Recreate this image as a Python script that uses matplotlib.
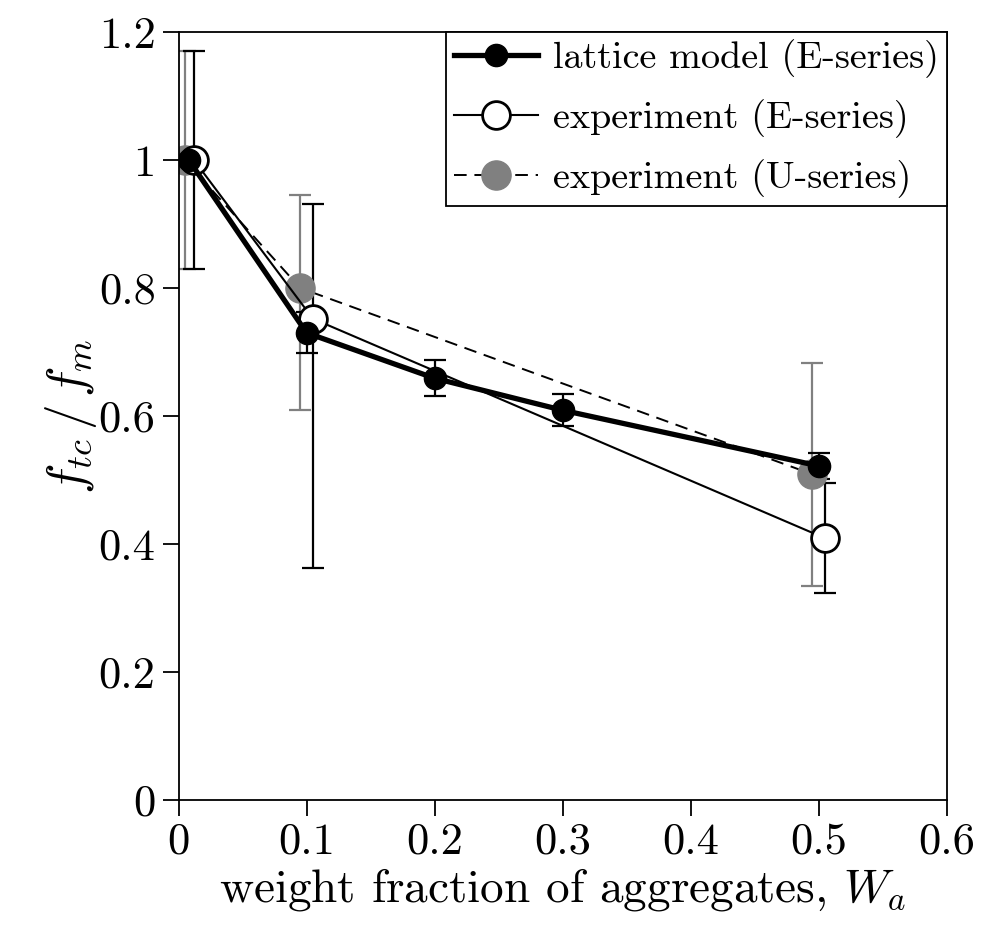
import matplotlib
matplotlib.use("Agg")
import matplotlib.pyplot as plt

plt.rcParams["font.family"] = "serif"
plt.rcParams["font.serif"] = ["cmr10"]
plt.rcParams["mathtext.fontset"] = "cm"
plt.rcParams["axes.formatter.use_mathtext"] = True

# lattice model (E-series)
x_lat = [0.008, 0.1, 0.2, 0.3, 0.5]
y_lat = [1.0, 0.73, 0.659, 0.609, 0.522]
e_lat = [0.0, 0.032, 0.028, 0.025, 0.02]

# experiment (E-series)
x_expE = [0.012, 0.105, 0.505]
y_expE = [1.0, 0.752, 0.409]
e_expE_lo = [0.17, 0.39, 0.086]
e_expE_hi = [0.17, 0.18, 0.087]

# experiment (U-series)
x_expU = [0.005, 0.095, 0.495]
y_expU = [1.0, 0.80, 0.509]
e_expU_lo = [0.17, 0.19, 0.174]
e_expU_hi = [0.17, 0.145, 0.174]

xticks = [0, 0.1, 0.2, 0.3, 0.4, 0.5, 0.6]
xlabels = ["0", "0.1", "0.2", "0.3", "0.4", "0.5", "0.6"]
yticks = [0, 0.2, 0.4, 0.6, 0.8, 1.0, 1.2]
ylabels = ["0", "0.2", "0.4", "0.6", "0.8", "1", "1.2"]

grey = "#808080"

fig = plt.figure(figsize=(9.88, 9.32), dpi=100)
ax = fig.add_axes([178.5 / 988, 1 - 800 / 932, (946.7 - 178.5) / 988, 768 / 932])

# error bars
ax.errorbar(x_expU, y_expU, yerr=[e_expU_lo, e_expU_hi], fmt="none",
            ecolor=grey, elinewidth=1.6, capsize=8, capthick=1.6, zorder=1)
ax.errorbar(x_expE, y_expE, yerr=[e_expE_lo, e_expE_hi], fmt="none",
            ecolor="black", elinewidth=1.6, capsize=8, capthick=1.6, zorder=1)
ax.errorbar(x_lat, y_lat, yerr=e_lat, fmt="none",
            ecolor="black", elinewidth=1.6, capsize=8, capthick=1.6, zorder=1)

# series
ax.plot(x_expU, y_expU, color="black", linestyle=(0, (6.5, 4)), linewidth=1.4,
        marker="o", markersize=21, markerfacecolor=grey, markeredgecolor=grey,
        zorder=2, label="experiment (U-series)")
ax.plot(x_expE, y_expE, color="black", linewidth=1.5,
        marker="o", markersize=20, markerfacecolor="white", markeredgecolor="black",
        markeredgewidth=2.0, zorder=3, label="experiment (E-series)")
ax.plot(x_lat, y_lat, color="black", linewidth=3.8,
        marker="o", markersize=16, markerfacecolor="black", markeredgecolor="black",
        zorder=4, label="lattice model (E-series)")

ax.set_xlim(0, 0.6)
ax.set_ylim(0, 1.2)
ax.set_xticks(xticks)
ax.set_xticklabels(xlabels)
ax.set_yticks(yticks)
ax.set_yticklabels(ylabels)
ax.tick_params(direction="out", length=11.5, width=1.3, labelsize=32, pad=5)
for s in ax.spines.values():
    s.set_linewidth(1.3)

ax.set_xlabel("weight fraction of aggregates, $W_a$", fontsize=34, labelpad=2)
ax.set_ylabel("$f_{tc}\\,/\\,f_m$", fontsize=37, labelpad=0)

handles, labels = ax.get_legend_handles_labels()
leg = ax.legend(handles[::-1], labels[::-1], loc="upper right", fontsize=27.5,
                frameon=True, fancybox=False, edgecolor="black", framealpha=1,
                borderaxespad=0, handlelength=2.2, handletextpad=0.4,
                borderpad=0.2, labelspacing=0.55)
leg.get_frame().set_linewidth(1.3)

fig.savefig("out.png", dpi=100)
